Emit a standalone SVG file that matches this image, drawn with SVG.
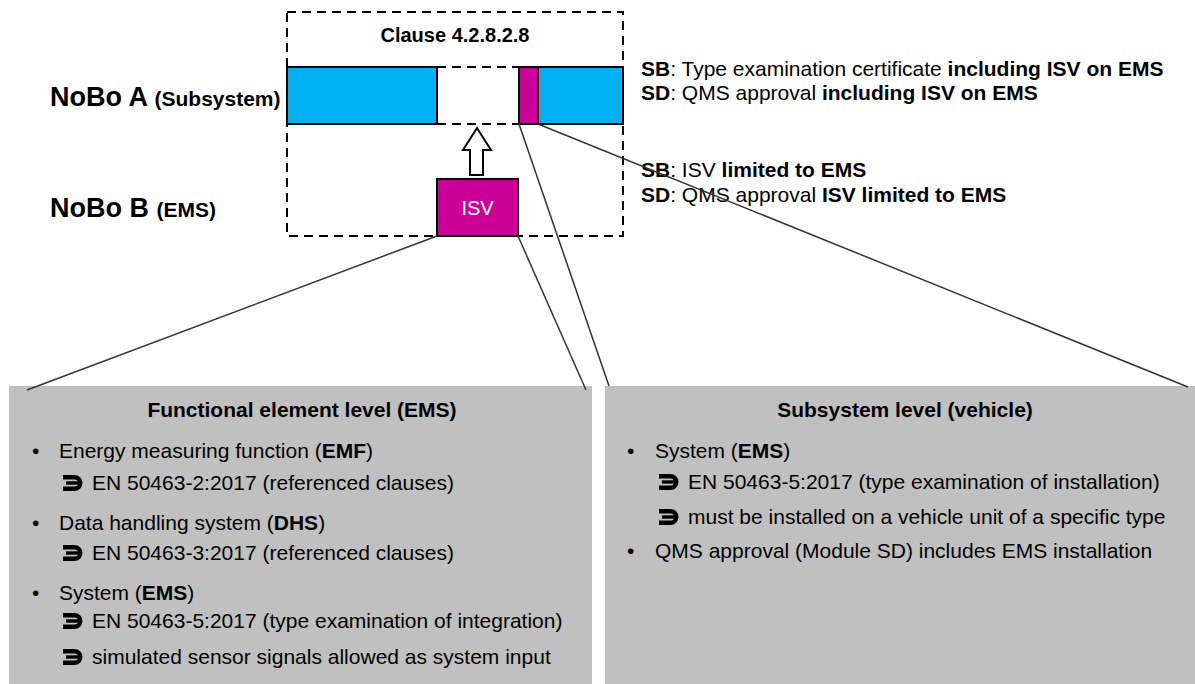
<svg xmlns="http://www.w3.org/2000/svg" width="1195" height="684" viewBox="0 0 1195 684">
<style>
text{font-family:"Liberation Sans",Arial,sans-serif;fill:#000}
.b{font-weight:bold}
.t{font-size:21px}
.nobo{font-size:27px;font-weight:bold}
.sub{font-size:21px;font-weight:bold}
.dash{fill:none;stroke:#000;stroke-width:2;stroke-dasharray:9 6}
.blue{fill:#00B0F0;stroke:#000;stroke-width:2}
.mag{fill:#CC0099;stroke:#000;stroke-width:2}
.gray{fill:#C0C0C0}
.con{stroke:#333;stroke-width:1.5;fill:none}
.arr{fill:none;stroke:#000;stroke-width:4.4}
</style>
<defs>
<g id="harrow">
<path class="arr" d="M1,2.2 H12.5 A5.8,5.8 0 0 1 12.5,13.8 H1"/>
<path d="M4,6.3 H16 V9.7 H4 Z" fill="#000"/>
</g>
</defs>
<rect width="1195" height="684" fill="#fff"/>

<g id="clause">
<rect class="dash" x="287" y="12" width="336" height="224"/>
<text class="b" x="455" y="42" font-size="20" text-anchor="middle">Clause 4.2.8.2.8</text>
</g>

<g id="nobo-a-bar">
<line class="dash" x1="437" y1="67" x2="519" y2="67"/>
<line class="dash" x1="437" y1="124" x2="519" y2="124"/>
<rect class="blue" x="287" y="67" width="150" height="57"/>
<rect class="mag" x="519" y="67" width="19" height="57"/>
<rect class="blue" x="538" y="67" width="85" height="57"/>
</g>

<g id="up-arrow">
<polygon points="470,175 470,150 463,150 477,128 491,150 483,150 483,175" fill="#fff" stroke="#000" stroke-width="2"/>
</g>

<g id="isv">
<rect class="mag" x="437" y="179" width="81" height="57"/>
<text x="477.5" y="215" font-size="20" text-anchor="middle" style="fill:#fff">ISV</text>
</g>

<g id="labels">
<text x="50" y="106"><tspan class="nobo">NoBo A </tspan><tspan class="sub">(Subsystem)</tspan></text>
<text x="50" y="217"><tspan class="nobo">NoBo B </tspan><tspan class="sub">(EMS)</tspan></text>
</g>

<g id="notes" class="t">
<text x="641" y="76" class="t"><tspan class="b">SB</tspan>: Type examination certificate <tspan class="b">including ISV on EMS</tspan></text>
<text x="641" y="100" class="t"><tspan class="b">SD</tspan>: QMS approval <tspan class="b">including ISV on EMS</tspan></text>
<text x="641" y="177" class="t"><tspan class="b">SB</tspan>: ISV <tspan class="b">limited to EMS</tspan></text>
<text x="641" y="202" class="t"><tspan class="b">SD</tspan>: QMS approval <tspan class="b">ISV limited to EMS</tspan></text>
</g>

<g id="functional-level">
<rect class="gray" x="9" y="386" width="583" height="298"/>
<text class="t b" x="302" y="417" text-anchor="middle">Functional element level (EMS)</text>
<text class="t" x="32" y="458">•</text>
<text class="t" x="59" y="458">Energy measuring function (<tspan class="b">EMF</tspan>)</text>
<use href="#harrow" x="62" y="475"/>
<text class="t" x="92" y="490">EN 50463-2:2017 (referenced clauses)</text>
<text class="t" x="32" y="530">•</text>
<text class="t" x="59" y="530">Data handling system (<tspan class="b">DHS</tspan>)</text>
<use href="#harrow" x="62" y="545"/>
<text class="t" x="92" y="560">EN 50463-3:2017 (referenced clauses)</text>
<text class="t" x="32" y="600">•</text>
<text class="t" x="59" y="600">System (<tspan class="b">EMS</tspan>)</text>
<use href="#harrow" x="62" y="613"/>
<text class="t" x="92" y="628">EN 50463-5:2017 (type examination of integration)</text>
<use href="#harrow" x="62" y="649"/>
<text class="t" x="92" y="664">simulated sensor signals allowed as system input</text>
</g>

<g id="subsystem-level">
<rect class="gray" x="605" y="386" width="590" height="298"/>
<text class="t b" x="905" y="417" text-anchor="middle">Subsystem level (vehicle)</text>
<text class="t" x="627" y="458">•</text>
<text class="t" x="655" y="458">System (<tspan class="b">EMS</tspan>)</text>
<use href="#harrow" x="658" y="474"/>
<text class="t" x="688" y="489">EN 50463-5:2017 (type examination of installation)</text>
<use href="#harrow" x="658" y="509"/>
<text class="t" x="688" y="524">must be installed on a vehicle unit of a specific type</text>
<text class="t" x="627" y="558">•</text>
<text class="t" x="655" y="558">QMS approval (Module SD) includes EMS installation</text>
</g>

<g id="connectors">
<line class="con" x1="437" y1="236" x2="27" y2="390"/>
<line class="con" x1="518" y1="236" x2="586" y2="390"/>
<line class="con" x1="519" y1="124" x2="609" y2="386"/>
<line class="con" x1="538" y1="124" x2="1188" y2="387"/>
</g>
</svg>
